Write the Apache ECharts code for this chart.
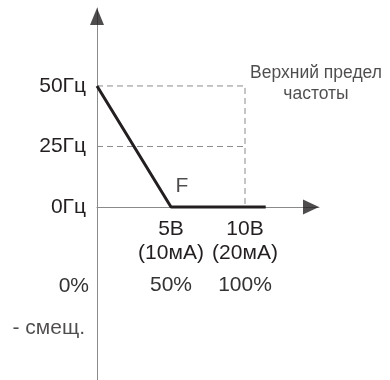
<!DOCTYPE html>
<html>
<head>
<meta charset="utf-8">
<script src="https://cdn.jsdelivr.net/npm/echarts@6/dist/echarts.min.js"></script>
<style>
  html, body { margin: 0; padding: 0; background: #fff; }
  #chart { width: 390px; height: 380px; }
</style>
</head>
<body>
<div id="chart"></div>
<script>
// Frequency reference vs. analog input (bias setting)
const freqTicks = [50, 25, 0];
const freqLabels = ['50Гц', '25Гц', '0Гц'];

const inputTicks = [5, 10];
const voltLabels = ['5В', '10В'];
const currentLabels = ['(10мА)', '(20мА)'];
const percentLabels = ['50%', '100%'];

// Output frequency curve: falls from 50 Hz at 0 V to 0 Hz at 5 V, then stays at 0
const curveInput = [0, 5, 11.4];
const curveFreq = [50, 0, 0];

// Upper frequency limit and half-frequency guide lines
const upperLimitInput = 10;
const upperFreq = 50;
const halfFreq = 25;

// Axis extents
const inputMax = 15;
const freqMax = 82.2;

const INK = '#231f20';
const SOFT_INK = '#333333';
const AXIS = '#8a8a8a';
const FONT = 'Liberation Sans, Arial, sans-serif';

const chart = echarts.init(document.getElementById('chart'));

const curveData = curveInput.map((x, i) => [x, curveFreq[i]]);

chart.setOption({
  animation: false,
  grid: [
    // main plot: frequency above the input axis
    { left: 97, width: 222, top: 8, height: 199, containLabel: false, outerBoundsMode: 'none' },
    // strip below the input axis, only carries the continued vertical axis line
    { left: 97, width: 222, top: 207, bottom: 0, containLabel: false, outerBoundsMode: 'none' }
  ],
  xAxis: [
    {
      type: 'value', min: 0, max: inputMax, gridIndex: 0,
      splitLine: { show: false },
      axisTick: { show: false },
      axisLine: { lineStyle: { color: AXIS, width: 1 } },
      axisLabel: {
        customValues: inputTicks,
        margin: 10,
        fontFamily: FONT,
        color: INK,
        formatter: v => {
          const i = inputTicks.indexOf(v);
          return '{v|' + voltLabels[i] + '}\n{a|' + currentLabels[i] + '}\n{p|' + percentLabels[i] + '}';
        },
        rich: {
          v: { fontSize: 21, lineHeight: 24, fontFamily: FONT, color: INK },
          a: { fontSize: 21, lineHeight: 24, fontFamily: FONT, color: INK },
          p: { fontSize: 21, lineHeight: 40, fontFamily: FONT, color: SOFT_INK }
        }
      }
    },
    { type: 'value', min: 0, max: inputMax, gridIndex: 1, show: false }
  ],
  yAxis: [
    {
      type: 'value', min: 0, max: freqMax, gridIndex: 0,
      splitLine: { show: false },
      axisTick: { show: false },
      axisLine: { lineStyle: { color: AXIS, width: 1 } },
      axisLabel: {
        customValues: freqTicks,
        margin: 11,
        fontSize: 21,
        fontFamily: FONT,
        color: INK,
        formatter: v => freqLabels[freqTicks.indexOf(v)]
      }
    },
    {
      type: 'value', min: 0, max: 1, gridIndex: 1,
      splitLine: { show: false },
      axisTick: { show: false },
      axisLabel: { show: false },
      axisLine: { show: true, lineStyle: { color: AXIS, width: 1 } }
    }
  ],
  series: [
    // dashed guides for 50 Hz and the 10 V upper limit
    {
      type: 'line', silent: true, symbol: 'none', z: 1,
      data: [[0, upperFreq], [upperLimitInput, upperFreq], [upperLimitInput, 0]],
      lineStyle: { color: AXIS, width: 1, type: [6, 4] }
    },
    {
      type: 'line', silent: true, symbol: 'none', z: 1,
      data: [[0, halfFreq], [upperLimitInput, halfFreq]],
      lineStyle: { color: AXIS, width: 1, type: [6, 4] }
    },
    // output frequency curve
    {
      type: 'line', symbol: 'none', z: 3, clip: false,
      data: curveData,
      lineStyle: { color: INK, width: 3 }
    },
    // axis arrow heads
    {
      type: 'scatter', z: 4, silent: true, clip: false,
      data: [
        { value: [inputMax, 0], symbolRotate: -90, symbolOffset: [-8, 0], symbolSize: [15, 16] },
        { value: [0, freqMax], symbolRotate: 0, symbolOffset: [0, 8.5], symbolSize: [14, 17] }
      ],
      symbol: 'triangle',
      itemStyle: { color: INK }
    },
    // text annotations anchored to the curve and axes
    {
      type: 'scatter', z: 5, silent: true, symbolSize: 0, clip: false,
      label: { show: true, fontFamily: FONT, color: INK, verticalAlign: 'middle' },
      data: [
        { value: curveData[1], label: { formatter: 'F', position: [11, -21], align: 'center', fontSize: 21 } },
        { value: [upperLimitInput, upperFreq], label: { formatter: 'Верхний предел\nчастоты', position: [71, -2.5], align: 'center', fontSize: 17.5, lineHeight: 21 } },
        { value: [0, 0], label: { formatter: '0%', position: [-8, 79], align: 'right', fontSize: 21, color: SOFT_INK, opacity: 1 } },
        { value: [0, 0], label: { formatter: '- смещ.', position: [-12, 121], align: 'right', fontSize: 21 } }
      ]
    }
  ]
});
</script>
</body>
</html>
